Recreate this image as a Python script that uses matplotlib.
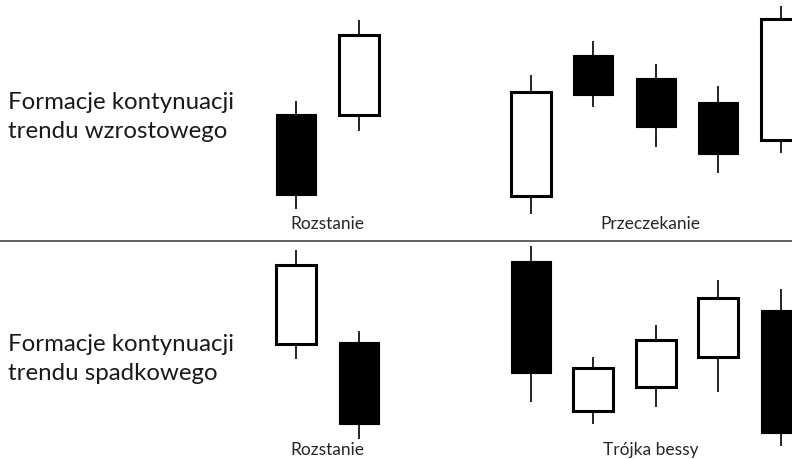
import matplotlib.pyplot as plt
from matplotlib.patches import Rectangle

# price scale: arbitrary units, each panel 0..~24
# top panel - continuation of uptrend
up_split_open = [12.7, 12.6]
up_split_close = [4.6, 20.6]
up_split_high = [14.0, 22.1]
up_split_low = [3.2, 11.0]

up_wait_open = [4.5, 18.6, 16.3, 13.9, 10.1]
up_wait_close = [14.9, 14.6, 11.4, 8.7, 22.2]
up_wait_high = [16.6, 20.0, 17.7, 15.5, 23.5]
up_wait_low = [2.7, 13.4, 9.4, 6.8, 8.8]

# bottom panel - continuation of downtrend
down_split_open = [11.5, 11.7]
down_split_close = [19.4, 3.5]
down_split_high = [20.9, 12.8]
down_split_low = [10.0, 2.0]

down_bear_open = [19.8, 4.8, 7.2, 10.2, 14.9]
down_bear_close = [8.6, 9.1, 11.9, 16.1, 2.6]
down_bear_high = [21.3, 10.2, 13.4, 17.9, 17.0]
down_bear_low = [5.7, 3.5, 5.2, 6.7, 1.3]

panel_titles = ["Formacje kontynuacji\ntrendu wzrostowego",
                "Formacje kontynuacji\ntrendu spadkowego"]
group_labels = [["Rozstanie", "Przeczekanie"], ["Rozstanie", "Trójka bessy"]]

W, H = 792, 460
SPLIT_Y = 242
STEP = 62.6
BODY_W = 40
GROUP_X0 = [296, 530.5]


def draw_candles(ax, x0, o, c, h, l):
    xs = []
    for i in range(len(o)):
        x = x0 + i * STEP
        xs.append(x)
        bottom, top = min(o[i], c[i]), max(o[i], c[i])
        ax.plot([x, x], [l[i], bottom], color="black", lw=1.2, solid_capstyle="butt", zorder=1)
        ax.plot([x, x], [top, h[i]], color="black", lw=1.2, solid_capstyle="butt", zorder=1)
        bull = c[i] > o[i]
        ax.add_patch(Rectangle((x - BODY_W / 2, bottom), BODY_W, top - bottom,
                               facecolor="white" if bull else "black",
                               edgecolor="black", lw=2.2 if bull else 0.8,
                               joinstyle="miter", zorder=2))
    return xs


fig = plt.figure(figsize=(W / 100, H / 100), dpi=100)
ax_top = fig.add_axes([0, 1 - SPLIT_Y / H, 1, SPLIT_Y / H])
ax_bot = fig.add_axes([0, 0, 1, 1 - SPLIT_Y / H])

panels = [
    (ax_top, SPLIT_Y, [(up_split_open, up_split_close, up_split_high, up_split_low),
                       (up_wait_open, up_wait_close, up_wait_high, up_wait_low)], 1.8),
    (ax_bot, H - SPLIT_Y, [(down_split_open, down_split_close, down_split_high, down_split_low),
                           (down_bear_open, down_bear_close, down_bear_high, down_bear_low)], 1.0),
]

for p, (ax, height, groups, label_y) in enumerate(panels):
    ax.set_xlim(0, W)
    ax.set_ylim(0, height / 10)
    ax.axis("off")
    for g, (o, c, h, l) in enumerate(groups):
        xs = draw_candles(ax, GROUP_X0[g], o, c, h, l)
        ax.text((xs[0] + xs[-1]) / 2 - (5 if g == 1 else 0), label_y, group_labels[p][g],
                ha="center", va="center", fontsize=12.5, color="#262626", family="Lato")

fig.text(8 / W, 1 - 117 / H, panel_titles[0], ha="left", va="center",
         fontsize=17.3, color="#1a1a1a", family="Lato", linespacing=1.45)
fig.text(8 / W, 1 - 359 / H, panel_titles[1], ha="left", va="center",
         fontsize=17.3, color="#1a1a1a", family="Lato", linespacing=1.45)

ax_bot.axhline(ax_bot.get_ylim()[1], color="#444444", lw=1.2, clip_on=False)

fig.savefig("out.png", dpi=100)
